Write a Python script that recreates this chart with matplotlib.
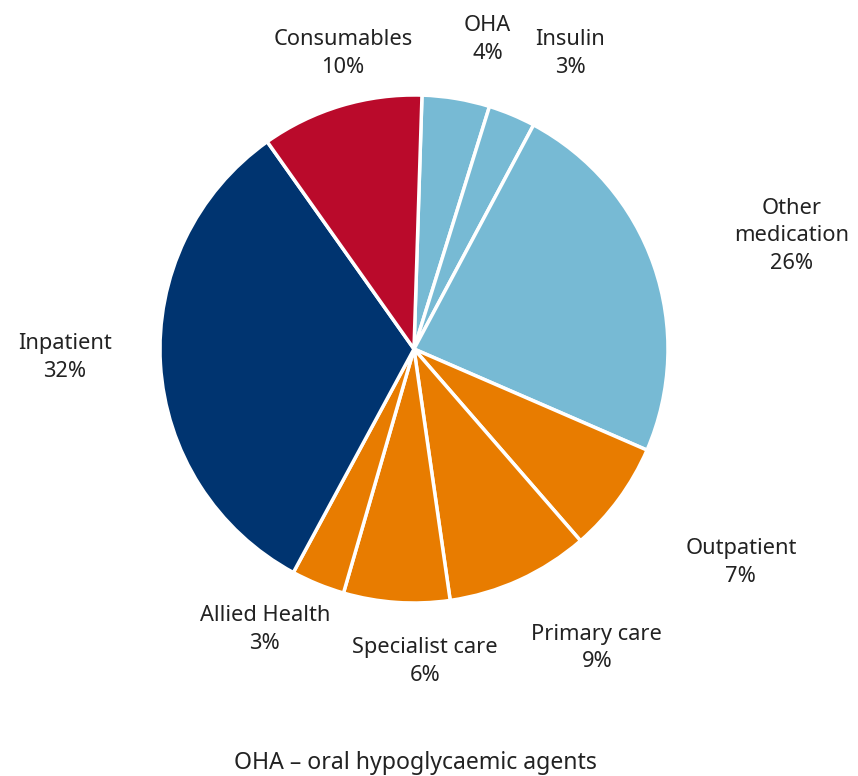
import matplotlib
matplotlib.use("Agg")
import matplotlib.pyplot as plt

plt.rcParams['font.family'] = ['Noto Sans', 'DejaVu Sans']

# slice order clockwise from the top
categories = ["OHA", "Insulin", "Other\nmedication", "Outpatient", "Primary care",
              "Specialist care", "Allied Health", "Inpatient", "Consumables"]
shares = [4.3, 3.0, 23.7, 7.1, 9.1, 6.75, 3.4, 32.3, 10.3]
pct_labels = ["4%", "3%", "26%", "7%", "9%", "6%", "3%", "32%", "10%"]

light_blue = "#77BAD4"
orange = "#E87C00"
navy = "#003470"
red = "#BA0A2B"
colors = [light_blue, light_blue, light_blue, orange, orange, orange, orange, navy, red]

# label centres, in pie radius units
label_pos = [(0.29, 1.217), (0.614, 1.165), (1.488, 0.445), (1.287, -0.839),
             (0.72, -1.177), (0.043, -1.232), (-0.587, -1.106), (-1.374, -0.035),
             (-0.28, 1.165)]

fig = plt.figure(figsize=(8.58, 7.76), dpi=100)
ax = fig.add_axes([0, 0, 1, 1])
ax.pie(shares, colors=colors, startangle=88.2, counterclock=False,
       wedgeprops=dict(edgecolor="white", linewidth=2.5))

for name, pct, (x, y) in zip(categories, pct_labels, label_pos):
    ax.text(x, y, name + "\n" + pct, ha="center", va="center",
            fontsize=15.7, color="#222222", linespacing=1.43)

ax.text(0.004, -1.628, "OHA \u2013 oral hypoglycaemic agents", ha="center", va="center",
        fontsize=16.6, color="#222222")

ax.set_xlim(-414 / 254, 444 / 254)
ax.set_ylim(-427 / 254, 349 / 254)
ax.set_aspect("auto")
ax.axis("off")

fig.savefig("out.png", dpi=100)
